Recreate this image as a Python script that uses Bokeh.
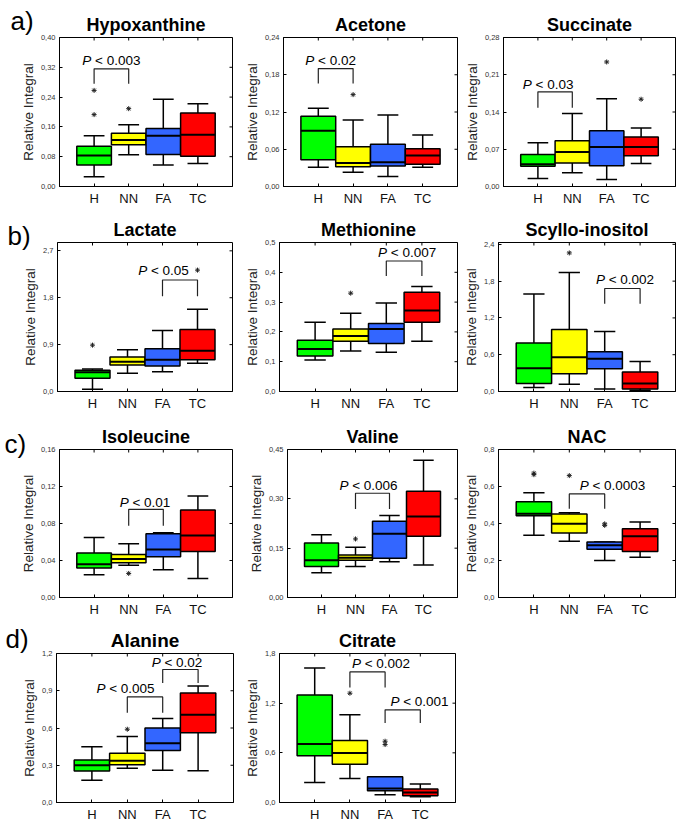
from bokeh.plotting import figure
from bokeh.layouts import column, row
from bokeh.models import Range1d, FixedTicker, CustomJSTickFormatter, ColumnDataSource
from bokeh.core.properties import value
from bokeh.embed import file_html
from bokeh.resources import INLINE

FONT = "Liberation Sans"
GROUPS = ["H", "NN", "FA", "TC"]
POS = [1, 2, 3, 4]
COLORS = ["#00ff00", "#ffff00", "#3366ff", "#ff0000"]

# ---------------- data (box statistics) ----------------
hypoxanthine = dict(lo=[0.026, 0.085, 0.058, 0.062], q1=[0.058, 0.112, 0.086, 0.081],
                    med=[0.083, 0.125, 0.136, 0.139], q3=[0.108, 0.143, 0.156, 0.197],
                    hi=[0.136, 0.166, 0.234, 0.222])
hypoxanthine_out = ([1, 1, 2], [0.258, 0.193, 0.209])
hypoxanthine_ticks = [0, 0.08, 0.16, 0.24, 0.32, 0.40]
hypoxanthine_sig = [(1, 2, 0.316, 0.276, "0.003", 0.339)]

acetone = dict(lo=[0.031, 0.023, 0.016, 0.031], q1=[0.043, 0.032, 0.033, 0.036],
               med=[0.090, 0.038, 0.039, 0.050], q3=[0.113, 0.064, 0.068, 0.061],
               hi=[0.126, 0.107, 0.115, 0.083])
acetone_out = ([2], [0.148])
acetone_ticks = [0, 0.06, 0.12, 0.18, 0.24]
acetone_sig = [(1, 2, 0.190, 0.166, "0.02", 0.203)]

succinate = dict(lo=[0.015, 0.026, 0.013, 0.043], q1=[0.038, 0.044, 0.039, 0.058],
                 med=[0.042, 0.065, 0.074, 0.074], q3=[0.060, 0.086, 0.105, 0.093],
                 hi=[0.082, 0.137, 0.165, 0.110])
succinate_out = ([3, 4], [0.234, 0.164])
succinate_ticks = [0, 0.07, 0.14, 0.21, 0.28]
succinate_sig = [(1, 2, 0.178, 0.148, "0.03", 0.192)]

lactate = dict(lo=[0.045, 0.35, 0.38, 0.54], q1=[0.255, 0.51, 0.49, 0.61],
               med=[0.37, 0.57, 0.61, 0.78], q3=[0.41, 0.66, 0.82, 1.19],
               hi=[0.43, 0.80, 1.17, 1.58])
lactate_out = ([1, 4], [0.89, 2.33])
lactate_ticks = [0, 0.9, 1.8, 2.7]
lactate_sig = [(3, 4, 2.14, 1.83, "0.05", 2.32)]

methionine = dict(lo=[0.106, 0.136, 0.132, 0.169], q1=[0.119, 0.169, 0.161, 0.232],
                  med=[0.143, 0.186, 0.210, 0.272], q3=[0.172, 0.210, 0.228, 0.333],
                  hi=[0.232, 0.263, 0.297, 0.352])
methionine_out = ([2], [0.33])
methionine_ticks = [0, 0.1, 0.2, 0.3, 0.4, 0.5]
methionine_sig = [(3, 4, 0.438, 0.388, "0.007", 0.466)]

scyllo = dict(lo=[0.065, 0.12, 0.04, 0.02], q1=[0.13, 0.29, 0.37, 0.04],
              med=[0.38, 0.56, 0.535, 0.13], q3=[0.79, 1.01, 0.65, 0.32],
              hi=[1.59, 1.94, 0.98, 0.49])
scyllo_out = ([2], [2.26])
scyllo_ticks = [0, 0.6, 1.2, 1.8, 2.4]
scyllo_sig = [(3, 4, 1.68, 1.43, "0.002", 1.83)]

isoleucine = dict(lo=[0.0246, 0.035, 0.030, 0.0206], q1=[0.032, 0.0376, 0.044, 0.0498],
                  med=[0.036, 0.0415, 0.052, 0.067], q3=[0.048, 0.0466, 0.069, 0.0946],
                  hi=[0.065, 0.058, 0.070, 0.1098])
isoleucine_out = ([2], [0.026])
isoleucine_ticks = [0, 0.04, 0.08, 0.12, 0.16]
isoleucine_sig = [(2, 3, 0.0953, 0.0776, "0.01", 0.103)]

valine = dict(lo=[0.0755, 0.094, 0.109, 0.099], q1=[0.094, 0.113, 0.119, 0.186],
              med=[0.113, 0.121, 0.194, 0.246], q3=[0.166, 0.129, 0.232, 0.323],
              hi=[0.191, 0.153, 0.249, 0.417])
valine_out = ([2], [0.178])
valine_ticks = [0, 0.15, 0.30, 0.45]
valine_sig = [(2, 3, 0.317, 0.269, "0.006", 0.342)]

nac = dict(lo=[0.336, 0.304, 0.200, 0.218], q1=[0.442, 0.349, 0.261, 0.249],
           med=[0.453, 0.399, 0.283, 0.331], q3=[0.517, 0.452, 0.300, 0.372],
           hi=[0.566, 0.458, 0.300, 0.408])
nac_out = ([1, 1, 2, 3, 3], [0.664, 0.672, 0.659, 0.390, 0.398])
nac_ticks = [0, 0.2, 0.4, 0.6, 0.8]
nac_sig = [(2, 3, 0.56, 0.48, "0.0003", 0.603)]

alanine = dict(lo=[0.18, 0.275, 0.259, 0.256], q1=[0.254, 0.305, 0.418, 0.561],
               med=[0.30, 0.337, 0.477, 0.707], q3=[0.342, 0.396, 0.601, 0.882],
               hi=[0.45, 0.531, 0.677, 0.939])
alanine_out = ([2], [0.59])
alanine_ticks = [0, 0.3, 0.6, 0.9, 1.2]
alanine_sig = [(2, 3, 0.85, 0.723, "0.005", 0.917), (3, 4, 1.071, 0.963, "0.02", 1.127)]

citrate = dict(lo=[0.243, 0.291, 0.093, 0.069], q1=[0.566, 0.461, 0.142, 0.081],
               med=[0.708, 0.599, 0.170, 0.121], q3=[1.30, 0.748, 0.311, 0.162],
               hi=[1.626, 1.06, 0.311, 0.222])
citrate_out = ([2, 3, 3], [1.32, 0.70, 0.74])
citrate_ticks = [0, 0.6, 1.2, 1.8]
citrate_sig = [(2, 3, 1.578, 1.388, "0.002", 1.68), (3, 4, 1.12, 0.96, "0.001", 1.22)]

PANELS = {
    "hyp": ("Hypoxanthine", hypoxanthine, hypoxanthine_out, hypoxanthine_ticks, 0.40, 2, hypoxanthine_sig),
    "ace": ("Acetone", acetone, acetone_out, acetone_ticks, 0.24, 2, acetone_sig),
    "suc": ("Succinate", succinate, succinate_out, succinate_ticks, 0.28, 2, succinate_sig),
    "lac": ("Lactate", lactate, lactate_out, lactate_ticks, 2.86, 1, lactate_sig),
    "met": ("Methionine", methionine, methionine_out, methionine_ticks, 0.5, 1, methionine_sig),
    "scy": ("Scyllo-inositol", scyllo, scyllo_out, scyllo_ticks, 2.43, 1, scyllo_sig),
    "ile": ("Isoleucine", isoleucine, isoleucine_out, isoleucine_ticks, 0.16, 2, isoleucine_sig),
    "val": ("Valine", valine, valine_out, valine_ticks, 0.45, 2, valine_sig),
    "nac": ("NAC", nac, nac_out, nac_ticks, 0.8, 1, nac_sig),
    "ala": ("Alanine", alanine, alanine_out, alanine_ticks, 1.2, 1, alanine_sig),
    "cit": ("Citrate", citrate, citrate_out, citrate_ticks, 1.8, 1, citrate_sig),
}

# ---------------- layout (pixel geometry) ----------------
ROWS = [
    (37, 149, 26, [("hyp", 59, 173, 8, [0]), ("ace", 43, 174, 3, [-5]), ("suc", 43, 172, 8, [-7])],
     "a)", -49, 17),
    (30, 149, 29, [("lac", 57, 175, 8, [-16.5]), ("met", 39, 178, 3, [3]), ("scy", 38, 177, 8, [2.6])],
     "b)", -50, 7),
    (29, 148, 27, [("ile", 59, 173, 8, [-1]), ("val", 47, 170, 3, [-4]), ("nac", 38, 177, 8, [25.5])],
     "c)", -55, 6),
    (29, 149, 22, [("ala", 56, 177, 7, [-19.5, -3.4]), ("cit", 39, 176, 5, [13.5, 16.8])],
     "d)", -51, 15),
]
TITLE_SIZES = {"ala": "19px"}
TITLE_GAP = 13     # px between the title's centre line and the frame top
P_SIZE = 13.5


def text_width(s, size):
    w = {" ": 278, "<": 584, ".": 278, "P": 667}
    return sum(w.get(c, 556) for c in s) * size / 1000.0


def make_panel(key, bl, fw, br, bt, fh, bb, shifts, tag=None, tag_dx=0, tag_dy=0):
    title, st, out, ticks, ymax, dec, sig = PANELS[key]
    p = figure(frame_width=fw, frame_height=fh,
               min_border_left=bl, min_border_right=br, min_border_top=bt, min_border_bottom=bb,
               x_range=Range1d(0, 5), y_range=Range1d(0, ymax),
               output_backend="svg", toolbar_location=None,
               background_fill_color="white", border_fill_color="white")
    p.outline_line_color = "black"
    p.outline_line_width = 1
    p.outline_line_alpha = 1
    p.xgrid.grid_line_color = None
    p.ygrid.grid_line_color = None

    xa = p.xaxis[0]
    ya = p.yaxis[0]
    xa.ticker = FixedTicker(ticks=POS)
    xa.major_label_overrides = {k: g for k, g in zip(POS, GROUPS)}
    xa.major_label_text_font = FONT
    xa.major_label_text_font_size = "13px"
    xa.major_label_text_color = "#111111"
    xa.major_label_standoff = 4

    ya.ticker = FixedTicker(ticks=ticks)
    ya.formatter = CustomJSTickFormatter(code="return tick.toFixed(%d).replace('.', ',');" % dec)
    ya.major_label_text_font = FONT
    ya.major_label_text_font_size = "7.5px"
    ya.major_label_text_color = "#333333"
    ya.major_label_standoff = 4
    ya.axis_label = "Relative Integral"
    ya.axis_label_text_font = FONT
    ya.axis_label_text_font_size = "13.5px"
    ya.axis_label_text_font_style = "normal"
    ya.axis_label_text_color = "#222222"
    ya.axis_label_standoff = 2

    for ax in (xa, ya):
        ax.major_tick_in = 3
        ax.major_tick_out = 0
        ax.minor_tick_line_color = None
        ax.axis_line_color = "black"
        ax.major_tick_line_color = "black"

    # inner ticks on the top and right frame edges (half of each dash is clipped by the frame)
    p.scatter(x=[5] * len(ticks), y=ticks, marker="dash", size=6, line_color="black", line_width=1)
    p.scatter(x=POS, y=[ymax] * len(POS), marker="dash", angle=1.5708, size=6, line_color="black", line_width=1)

    src = ColumnDataSource(dict(
        x=POS, lo=st["lo"], q1=st["q1"], med=st["med"], q3=st["q3"], hi=st["hi"], color=COLORS,
        xl=[x - 0.5 for x in POS], xr=[x + 0.5 for x in POS],
        cl=[x - 0.3 for x in POS], cr=[x + 0.3 for x in POS],
    ))
    p.segment(x0="x", y0="lo", x1="x", y1="q1", source=src, line_color="black", line_width=1.5)
    p.segment(x0="x", y0="q3", x1="x", y1="hi", source=src, line_color="black", line_width=1.5)
    p.segment(x0="cl", y0="lo", x1="cr", y1="lo", source=src, line_color="black", line_width=1.5)
    p.segment(x0="cl", y0="hi", x1="cr", y1="hi", source=src, line_color="black", line_width=1.5)
    p.vbar(x="x", width=1.0, bottom="q1", top="q3", source=src, fill_color="color",
           line_color="black", line_width=1.5)
    p.segment(x0="xl", y0="med", x1="xr", y1="med", source=src, line_color="black", line_width=2)

    p.scatter(x=out[0], y=out[1], marker="asterisk", size=5, line_color="#222222", line_width=1)

    for (x1, x2, top, leg, pv, ty), sh in zip(sig, shifts):
        p.multi_line(xs=[[x1, x1, x2, x2]], ys=[[leg, top, top, leg]], line_color="#222222", line_width=1.2)
        rest = "< " + pv
        total = text_width("P " + rest, P_SIZE)
        left = -total / 2 + sh
        xc = (x1 + x2) / 2
        p.text(x=[xc], y=[ty], text=["P"], x_offset=left, text_font=value(FONT),
               text_font_style="italic", text_font_size="%spx" % P_SIZE,
               text_align="left", text_baseline="middle", text_color="black")
        p.text(x=[xc], y=[ty], text=[rest], x_offset=left + text_width("P ", P_SIZE), text_font=value(FONT),
               text_font_size="%spx" % P_SIZE,
               text_align="left", text_baseline="middle", text_color="black")

    ux = fw / 5.0
    uy = fh / ymax
    # panel title, drawn above the frame
    p.text(x=[2.5], y=[ymax + TITLE_GAP / uy], text=[title], level="overlay",
           text_font=value(FONT), text_font_style="bold", text_font_size=TITLE_SIZES.get(key, "18px"),
           text_align="center", text_baseline="middle", text_color="black")
    if tag:
        p.text(x=[tag_dx / ux], y=[ymax + tag_dy / uy], text=[tag], level="overlay",
               text_font=value(FONT), text_font_size="26px", text_align="left",
               text_baseline="middle", text_color="black")
    return p


rows = []
for bt, fh, bb, items, tag, tdx, tdy in ROWS:
    figs = []
    for i, (key, bl, fw, br, shifts) in enumerate(items):
        figs.append(make_panel(key, bl, fw, br, bt, fh, bb, shifts,
                               tag if i == 0 else None, tdx, tdy))
    rows.append(row(*figs, spacing=0))

layout = column(*rows, spacing=0)
open("out.html", "w").write(file_html(layout, INLINE))
